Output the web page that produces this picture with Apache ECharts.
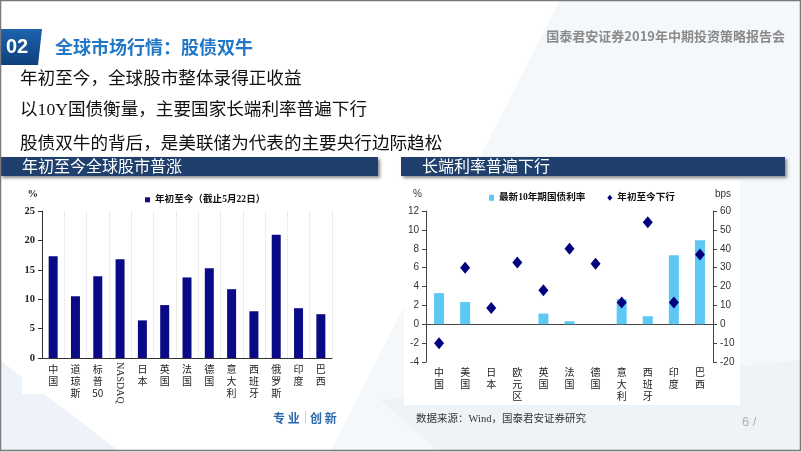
<!DOCTYPE html>
<html><head><meta charset="utf-8">
<script src="https://cdn.jsdelivr.net/npm/echarts@6/dist/echarts.min.js"></script>
<style>html,body{margin:0;padding:0;background:#fff}#c{width:802px;height:452px}</style>
</head><body><div id="c"></div>
<script>
// ---- data ----
const stockCategories = ['中国','道琼斯','标普50','NASDAQ','日本','英国','法国','德国','意大利','西班牙','俄罗斯','印度','巴西'];
const stockYtd = [17.3,10.5,13.9,16.8,6.4,9.0,13.7,15.25,11.7,7.95,20.95,8.47,7.45];
const stockTicks = [0,5,10,15,20,25];

const bondCategories = ['中国','美国','日本','欧元区','英国','法国','德国','意大利','西班牙','印度','巴西'];
const bondYield10y = [3.3,2.36,0,0,1.13,0.32,0,2.65,0.85,7.31,8.9];
const bondYtdDown = [-10,30,8.6,32.7,18,40,32,11.5,54,11.5,37];
const yieldTicks = [-4,-2,0,2,4,6,8,10,12];
const bpsTicks = [-20,-10,0,10,20,30,40,50,60];

const stockSeriesName = '年初至今（截止5月22日）';
const yieldSeriesName = '最新10年期国债利率';
const bpsSeriesName = '年初至今下行';

// ---- helpers ----
const CJK = "'Noto Sans CJK SC', sans-serif";
const SERIF = "'Liberation Serif', 'Noto Sans CJK SC', serif";
function vert(s){ if(s==='NASDAQ') return ''; return (s.match(/[0-9A-Za-z]+|./g)||[]).join('\n'); }
function rng(t){ return {min:t[0], max:t[t.length-1], interval:t[1]-t[0]}; }

const chart = echarts.init(document.getElementById('c'), null, {renderer:'canvas'});

const graphics = [
  // background decor
  {type:'polygon', z:-100, shape:{points:[[560,0],[802,0],[802,452],[330,452]]}, style:{fill:'#f5f8fb'}},
  {type:'polygon', z:-99, shape:{points:[[0,360],[120,452],[0,452]]}, style:{fill:'#eef3f9'}},
  {type:'polygon', z:-99, shape:{points:[[380,400],[802,360],[802,452],[440,452]]}, style:{fill:'#eef3f8'}},
  {type:'rect', z:-98, shape:{x:22,y:180,width:334,height:214}, style:{fill:'#ffffff'}},
  {type:'rect', z:-98, shape:{x:404,y:180,width:336,height:225}, style:{fill:'#ffffff'}},
  // frame
  {type:'rect', z:200, shape:{x:0.5,y:0.5,width:800,height:450}, style:{fill:null, stroke:'#7a7a7a', lineWidth:1.5}},
  // badge
  {type:'polygon', z:10, shape:{points:[[0,29],[42,29],[38,65],[0,65]]},
    style:{fill:new echarts.graphic.LinearGradient(0,0,0,1,[{offset:0,color:'#1d63ad'},{offset:1,color:'#0f3f7c'}])}},
  {type:'text', z:11, style:{text:'02', x:6, y:47.5, verticalAlign:'middle', fill:'#fff', font:"bold 20px 'Liberation Sans', sans-serif"}},
  {type:'text', z:11, style:{text:'全球市场行情：股债双牛', x:55, y:47.5, verticalAlign:'middle', fill:'#2277c6', font:"bold 18px "+CJK}},
  {type:'text', z:11, style:{text:'国泰君安证券2019年中期投资策略报告会', x:785, y:36, align:'right', verticalAlign:'middle', fill:'#8a8a8a', font:"bold 13px "+CJK}},
  // body lines
  {type:'text', z:11, style:{text:'年初至今，全球股市整体录得正收益', x:20, y:79.5, verticalAlign:'middle', fill:'#111', font:"17.6px "+SERIF}},
  {type:'text', z:11, style:{text:'以10Y国债衡量，主要国家长端利率普遍下行', x:20, y:110, verticalAlign:'middle', fill:'#111', font:"17.6px "+SERIF}},
  {type:'text', z:11, style:{text:'股债双牛的背后，是美联储为代表的主要央行边际趋松', x:20, y:144.5, verticalAlign:'middle', fill:'#111', font:"17.6px "+SERIF}},
  // banners
  {type:'rect', z:10, shape:{x:0,y:157,width:378,height:19}, style:{fill:'#1f3f6d', shadowBlur:3, shadowOffsetX:2, shadowOffsetY:2, shadowColor:'rgba(0,0,0,0.45)'}},
  {type:'text', z:11, style:{text:'年初至今全球股市普涨', x:22, y:168, verticalAlign:'middle', fill:'#fff', font:"16px "+SERIF}},
  {type:'rect', z:10, shape:{x:401,y:157,width:384,height:19}, style:{fill:'#1f3f6d', shadowBlur:3, shadowOffsetX:2, shadowOffsetY:2, shadowColor:'rgba(0,0,0,0.45)'}},
  {type:'text', z:11, style:{text:'长端利率普遍下行', x:422, y:168, verticalAlign:'middle', fill:'#fff', font:"16px "+SERIF}},
  // footer
  {type:'text', z:11, style:{text:'专 业', x:273, y:418, verticalAlign:'middle', fill:'#2b68ad', font:"bold 12px "+CJK}},
  {type:'rect', z:11, shape:{x:305,y:411,width:1,height:12}, style:{fill:'#d0d0d0'}},
  {type:'text', z:11, style:{text:'创 新', x:310, y:418, verticalAlign:'middle', fill:'#2b68ad', font:"bold 12px "+CJK}},
  {type:'text', z:11, style:{text:'数据来源：Wind，国泰君安证券研究', x:416, y:419, verticalAlign:'middle', fill:'#333', font:"10.5px "+SERIF}},
  {type:'text', z:11, style:{text:'6 /', x:742, y:422, verticalAlign:'middle', fill:'#b0b0b0', font:"13px 'Liberation Sans', sans-serif"}}
];

const sR = rng(stockTicks), yR = rng(yieldTicks), bR = rng(bpsTicks);

const option = {
  animation:false,
  backgroundColor:'#ffffff',
  graphic: graphics,
  legend:[
    {left:140, top:190, itemWidth:5, itemHeight:5, itemGap:20,
     textStyle:{fontFamily:SERIF, fontSize:9.6, color:'#111', fontWeight:'bold'},
     data:[{name:stockSeriesName, icon:'rect'}]},
    {left:484, top:188, itemWidth:5, itemHeight:6, itemGap:22,
     textStyle:{fontFamily:SERIF, fontSize:9.6, color:'#111', fontWeight:'bold'},
     data:[{name:yieldSeriesName, icon:'rect'},{name:bpsSeriesName, icon:'diamond'}]}
  ],
  grid:[
    {left:42, top:211, width:290, height:147},
    {left:426, top:211, width:287, height:151}
  ],
  xAxis:[
    {type:'category', gridIndex:0, data:stockCategories,
     axisLine:{lineStyle:{color:'#333'}}, axisTick:{length:4, lineStyle:{color:'#333'}},
     axisLabel:{interval:0, margin:5, formatter:vert, fontFamily:CJK, fontSize:10, lineHeight:12, color:'#222'},
     splitLine:{show:true, lineStyle:{type:'dotted', color:'#dcdcdc'}}},
    {type:'category', gridIndex:1, data:bondCategories,
     axisLine:{onZero:true, onZeroAxisIndex:1, lineStyle:{color:'#444'}}, axisTick:{length:4, lineStyle:{color:'#444'}},
     axisLabel:{show:false}, splitLine:{show:false}},
    {type:'category', gridIndex:1, data:bondCategories, position:'bottom',
     axisLine:{show:false, onZero:false}, axisTick:{show:false},
     axisLabel:{interval:0, margin:4, formatter:vert, fontFamily:CJK, fontSize:10, lineHeight:12, color:'#222'},
     splitLine:{show:false}}
  ],
  yAxis:[
    {type:'value', gridIndex:0, min:sR.min, max:sR.max, interval:sR.interval,
     name:'%', nameLocation:'end', nameGap:11, nameTextStyle:{align:'right', padding:[0,4,0,0], fontFamily:SERIF, fontWeight:'bold', fontSize:10.5, color:'#222'},
     axisLine:{show:true, lineStyle:{color:'#333'}}, axisTick:{show:true, length:4, lineStyle:{color:'#333'}},
     axisLabel:{margin:7, fontFamily:SERIF, fontWeight:'bold', fontSize:10.5, color:'#222'},
     splitLine:{show:false}},
    {type:'value', gridIndex:1, min:yR.min, max:yR.max, interval:yR.interval, position:'left',
     name:'%', nameLocation:'end', nameGap:12, nameTextStyle:{align:'right', padding:[0,4,0,0], fontFamily:"'Liberation Sans', sans-serif", fontSize:10, color:'#333'},
     axisLine:{show:true, onZero:false, lineStyle:{color:'#444'}}, axisTick:{show:true, length:4, lineStyle:{color:'#444'}},
     axisLabel:{margin:7, fontFamily:"'Liberation Sans', sans-serif", fontSize:10, color:'#333'},
     splitLine:{show:false}},
    {type:'value', gridIndex:1, min:bR.min, max:bR.max, interval:bR.interval, position:'right',
     name:'bps', nameLocation:'end', nameGap:12, nameTextStyle:{align:'left', padding:[0,0,0,2], fontFamily:"'Liberation Sans', sans-serif", fontSize:10, color:'#333'},
     axisLine:{show:true, onZero:false, lineStyle:{color:'#444'}}, axisTick:{show:true, length:4, lineStyle:{color:'#444'}},
     axisLabel:{margin:7, fontFamily:"'Liberation Sans', sans-serif", fontSize:10, color:'#333'},
     splitLine:{show:false}}
  ],
  series:[
    {name:stockSeriesName, type:'bar', xAxisIndex:0, yAxisIndex:0, data:stockYtd, barWidth:9, itemStyle:{color:'#0a0a86'}},
    {name:yieldSeriesName, type:'bar', xAxisIndex:1, yAxisIndex:1, data:bondYield10y, barWidth:10, itemStyle:{color:'#5ec8f5'}},
    {name:bpsSeriesName, type:'scatter', xAxisIndex:1, yAxisIndex:2, data:bondYtdDown, symbol:'diamond', symbolSize:[10,12], itemStyle:{color:'#000080', opacity:1}, z:5}
  ]
};
chart.setOption(option);

// rotated NASDAQ label placed via the category axis scale
const nx = chart.convertToPixel({xAxisIndex:0}, 'NASDAQ');
const ny = chart.convertToPixel({yAxisIndex:0}, 0);
graphics.push({type:'text', z:20, x:nx, y:ny+4, rotation:-Math.PI/2,
  style:{text:'NASDAQ', x:0, y:0, align:'left', verticalAlign:'middle', fill:'#222', font:"10px 'Liberation Serif', serif"}});
chart.setOption({graphic:graphics});
</script>
</body></html>
